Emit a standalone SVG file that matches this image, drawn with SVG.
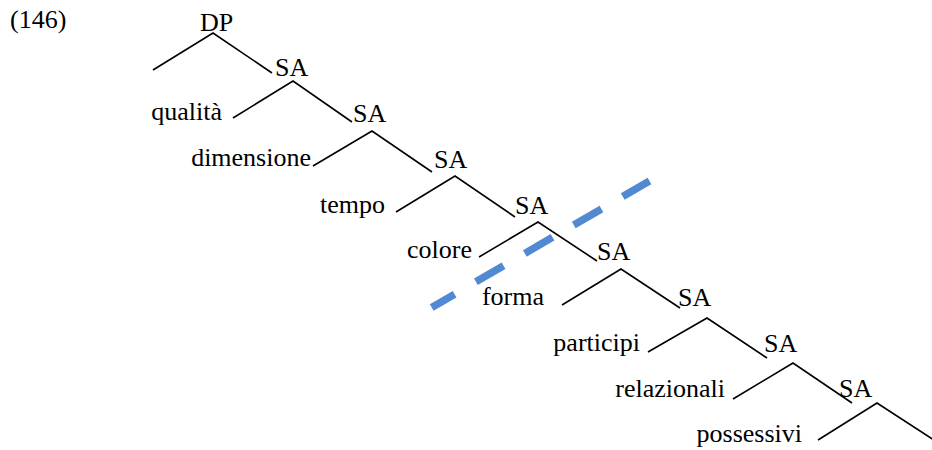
<svg xmlns="http://www.w3.org/2000/svg" width="932" height="450" viewBox="0 0 932 450">
  <style>
    .leaf { text-anchor: end; }
    .branch { fill: none; stroke: #000; stroke-width: 1.6; stroke-linejoin: miter; }
    .cut { fill: none; stroke: #5189D3; stroke-width: 7.5; stroke-dasharray: 32 24.6; stroke-dashoffset: 5.5; }
  </style>

  <g font-family="'Liberation Serif', serif" font-size="26" fill="#000">
    <text x="10" y="28">(146)</text>

    <!-- phrase nodes -->
    <g id="dp"><text x="200" y="31">DP</text></g>
    <g id="sa1"><text x="275" y="76">SA</text></g>
    <g id="sa2"><text x="353" y="122">SA</text></g>
    <g id="sa3"><text x="434" y="168">SA</text></g>
    <g id="sa4"><text x="515" y="214">SA</text></g>
    <g id="sa5"><text x="597" y="260">SA</text></g>
    <g id="sa6"><text x="678" y="306">SA</text></g>
    <g id="sa7"><text x="764" y="352">SA</text></g>
    <g id="sa8"><text x="839" y="397">SA</text></g>

    <!-- adjective classes -->
    <g id="qualita"><text class="leaf" x="222" y="120">qualità</text></g>
    <g id="dimensione"><text class="leaf" x="311" y="166">dimensione</text></g>
    <g id="tempo"><text class="leaf" x="385" y="213">tempo</text></g>
    <g id="colore"><text class="leaf" x="472" y="258">colore</text></g>
    <g id="forma"><text class="leaf" x="544" y="305">forma</text></g>
    <g id="participi"><text class="leaf" x="640" y="351">participi</text></g>
    <g id="relazionali"><text class="leaf" x="725" y="397">relazionali</text></g>
    <g id="possessivi"><text class="leaf" x="802" y="442">possessivi</text></g>
  </g>

  <!-- branches -->
  <g id="connectors">
    <polyline class="branch" points="153,70 213,33 272,73"/>
    <polyline class="branch" points="233,118 293,81 352,122"/>
    <polyline class="branch" points="313,166 372,131 432,172"/>
    <polyline class="branch" points="396,212 455,176 515,217"/>
    <polyline class="branch" points="479,257 538,222 597,261"/>
    <polyline class="branch" points="562,305 621,269 680,308"/>
    <polyline class="branch" points="648,352 707,318 767,358"/>
    <polyline class="branch" points="733,399 793,363 852,403"/>
    <polyline class="branch" points="818,440 877,403 940,444"/>
  </g>

  <!-- boundary line -->
  <line class="cut" x1="431.7" y1="307.5" x2="649.5" y2="181"/>
</svg>
